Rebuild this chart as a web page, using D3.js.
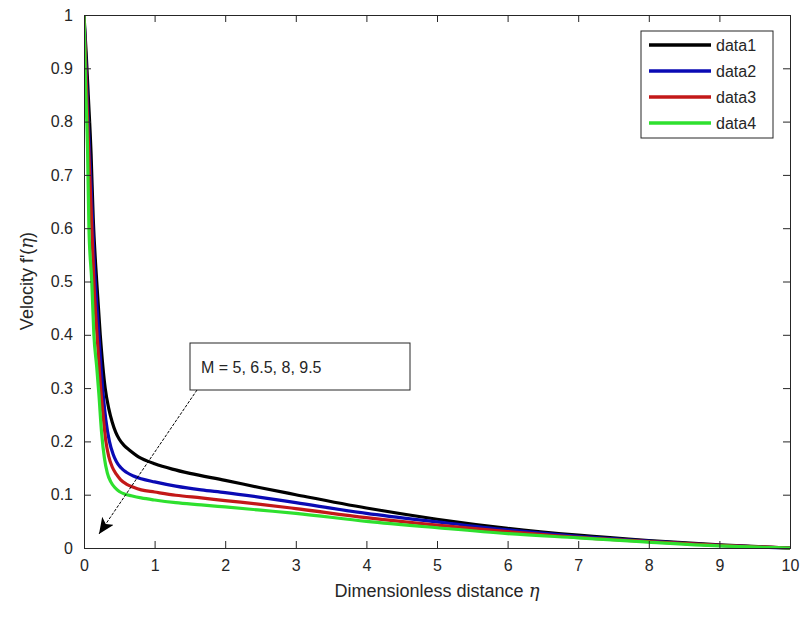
<!DOCTYPE html>
<html><head><meta charset="utf-8">
<script src="https://cdn.jsdelivr.net/npm/d3@7"></script>
<style>body{margin:0;background:#fff;}svg{display:block;font-family:"Liberation Sans",Arial,sans-serif;}</style>
</head><body><svg id="c" width="804" height="618"></svg>
<script>
const seriesNames = ["data1","data2","data3","data4"];
const seriesColors = ["#000000","#0a0ab4","#c31818","#2ee02e"];
const eta1 = [0,0.03,0.06,0.1,0.13,0.18,0.23,0.3,0.35,0.4,0.45,0.5,0.57,0.65,0.75,0.9,1,1.25,1.5,2,2.5,3,4,5,6,7,8,9,10];
const f1   = [1,0.93,0.85,0.74,0.62,0.5,0.4,0.3,0.262,0.236,0.217,0.204,0.192,0.183,0.173,0.163,0.158,0.148,0.14,0.127,0.113,0.1,0.075,0.054,0.037,0.024,0.014,0.006,0];
const eta2 = [0,0.03,0.06,0.1,0.14,0.2,0.24,0.27,0.31,0.36,0.41,0.46,0.52,0.6,0.7,0.81,1,1.3,1.66,2,2.5,3,4,5,6,7,8,9,10];
const f2   = [1,0.9,0.8,0.68,0.55,0.42,0.34,0.29,0.24,0.2,0.177,0.162,0.151,0.142,0.135,0.13,0.124,0.116,0.109,0.104,0.095,0.085,0.065,0.049,0.034,0.022,0.013,0.005,0];
const eta3 = [0,0.03,0.06,0.1,0.14,0.2,0.23,0.27,0.31,0.35,0.4,0.46,0.52,0.6,0.7,0.81,1,1.3,1.66,2,2.5,3,4,5,6,7,8,9,10];
const f3   = [1,0.88,0.77,0.64,0.5,0.37,0.31,0.25,0.2,0.172,0.152,0.138,0.128,0.12,0.114,0.109,0.105,0.099,0.094,0.089,0.082,0.074,0.057,0.043,0.031,0.02,0.012,0.005,0];
const eta4 = [0,0.02,0.05,0.07,0.11,0.14,0.18,0.21,0.25,0.29,0.33,0.38,0.44,0.5,0.58,0.67,0.81,1,1.3,1.66,2,2.5,3,4,5,6,7,8,9,10];
const f4   = [1,0.88,0.75,0.6,0.5,0.4,0.34,0.29,0.215,0.168,0.141,0.124,0.113,0.106,0.101,0.098,0.094,0.09,0.085,0.081,0.077,0.071,0.065,0.05,0.038,0.027,0.019,0.011,0.004,0];
const xTicks = [0,1,2,3,4,5,6,7,8,9,10];
const yTicks = [0,0.1,0.2,0.3,0.4,0.5,0.6,0.7,0.8,0.9,1];
const annotationText = "M = 5, 6.5, 8, 9.5";

const svg = d3.select("#c");
const L=84,R=790,T=15,B=548;
const x = d3.scaleLinear().domain([0,10]).range([L,R]);
const y = d3.scaleLinear().domain([0,1]).range([B,T]);
const axisColor="#262626";

const series = [[eta1,f1],[eta2,f2],[eta3,f3],[eta4,f4]];
const line = d3.line().x(d=>x(d[0])).y(d=>y(d[1])).curve(d3.curveMonotoneX);
const plot = svg.append("g");
plot.append("clipPath").attr("id","cp").append("rect").attr("x",L).attr("y",T-2).attr("width",R-L+2).attr("height",B-T+4);
series.forEach((s,i)=>{
  const pts = s[0].map((e,j)=>[e,s[1][j]]);
  plot.append("path").attr("d",line(pts)).attr("fill","none")
    .attr("stroke",seriesColors[i]).attr("stroke-width",3.2).attr("stroke-linejoin","round").attr("clip-path","url(#cp)");
});

// axes
const gx = svg.append("g").attr("transform",`translate(0,${B})`)
  .call(d3.axisBottom(x).tickValues(xTicks).tickSize(-7).tickPadding(12).tickFormat(d3.format("d")));
const gxt = svg.append("g").attr("transform",`translate(0,${T})`)
  .call(d3.axisTop(x).tickValues(xTicks).tickSize(-7).tickFormat(""));
const gy = svg.append("g").attr("transform",`translate(${L},0)`)
  .call(d3.axisLeft(y).tickValues(yTicks).tickSize(-7).tickPadding(11).tickFormat(d=>d===0?"0":d===1?"1":d3.format(".1f")(d)));
const gyr = svg.append("g").attr("transform",`translate(${R},0)`)
  .call(d3.axisRight(y).tickValues(yTicks).tickSize(-7).tickFormat(""));
[gx,gxt,gy,gyr].forEach(g=>{
  g.select(".domain").attr("stroke",axisColor).attr("stroke-width",1);
  g.selectAll(".tick line").attr("stroke",axisColor);
  g.selectAll(".tick text").attr("fill",axisColor).attr("font-size",16).attr("font-family","Liberation Sans, Arial, sans-serif");
});

// axis titles
const xt = svg.append("text").attr("x",437).attr("y",597).attr("text-anchor","middle")
  .attr("font-size",18).attr("fill",axisColor);
xt.append("tspan").text("Dimensionless distance ");
xt.append("tspan").attr("font-family","DejaVu Serif, serif").attr("font-style","italic").text("η");
const yt = svg.append("text").attr("transform","translate(33,281) rotate(-90)").attr("text-anchor","middle")
  .attr("font-size",18).attr("fill",axisColor);
yt.append("tspan").text("Velocity f'(");
yt.append("tspan").attr("font-family","DejaVu Serif, serif").attr("font-style","italic").text("η");
yt.append("tspan").text(")");

// legend
const lg = svg.append("g");
lg.append("rect").attr("x",641).attr("y",31).attr("width",132).attr("height",107)
  .attr("fill","#fff").attr("stroke",axisColor).attr("stroke-width",1);
seriesNames.forEach((n,i)=>{
  const yy = 45 + i*26;
  lg.append("line").attr("x1",649).attr("x2",711).attr("y1",yy).attr("y2",yy)
    .attr("stroke",seriesColors[i]).attr("stroke-width",3.5);
  lg.append("text").attr("x",716).attr("y",yy+6).attr("font-size",16).attr("fill",axisColor).text(n);
});

// annotation
svg.append("defs").append("marker").attr("id","ah").attr("viewBox","0 0 16 14").attr("refX",16).attr("refY",7)
  .attr("markerWidth",16).attr("markerHeight",14).attr("markerUnits","userSpaceOnUse").attr("orient","auto")
  .append("path").attr("d","M0,0 L16,7 L0,14 L4,7 Z").attr("fill","#000");
svg.append("line").attr("x1",197).attr("y1",390).attr("x2",99).attr("y2",534)
  .attr("stroke","#000").attr("stroke-width",1).attr("stroke-dasharray","3,1.5").attr("marker-end","url(#ah)");
svg.append("rect").attr("x",190).attr("y",343).attr("width",220).attr("height",47)
  .attr("fill","#fff").attr("stroke",axisColor).attr("stroke-width",1);
svg.append("text").attr("x",201).attr("y",373).attr("font-size",16).attr("fill",axisColor).text(annotationText);
</script></body></html>
